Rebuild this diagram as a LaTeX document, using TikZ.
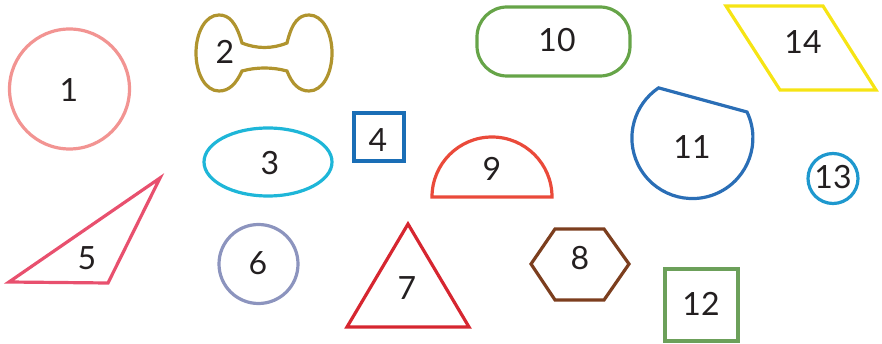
\documentclass[tikz,border=0pt]{standalone}
\usepackage{fontspec}
\setmainfont{Lato}
\usepackage{tikz}

\definecolor{shapePink}{RGB}{242,148,146}
\definecolor{shapeOlive}{RGB}{176,148,46}
\definecolor{shapeCyan}{RGB}{30,182,216}
\definecolor{shapeBlue}{RGB}{26,110,182}
\definecolor{shapeRose}{RGB}{232,80,110}
\definecolor{shapeLavender}{RGB}{140,148,190}
\definecolor{shapeRed}{RGB}{214,38,48}
\definecolor{shapeBrown}{RGB}{124,62,30}
\definecolor{shapeOrange}{RGB}{234,74,58}
\definecolor{shapeGreen}{RGB}{102,164,72}
\definecolor{shapeNavy}{RGB}{42,110,182}
\definecolor{shapeSage}{RGB}{108,160,90}
\definecolor{shapeSky}{RGB}{30,152,206}
\definecolor{shapeYellow}{RGB}{246,228,20}
\definecolor{labelGray}{RGB}{35,31,32}

\begin{document}
\begin{tikzpicture}[
    x=1pt, y=-1pt,
    outline/.style={line width=3.2pt},
    num/.style={font=\fontsize{32}{32}\selectfont, text=labelGray, inner sep=0pt}
]
    \useasboundingbox (0,0) rectangle (882,344);

    % shapes
    \draw [outline, shapePink] (69.5,89) circle [radius=60];
    \draw [outline, shapeOlive] (242,43) .. controls (236,22) and (229,15) .. (219,15)
        .. controls (205,15) and (196,33) .. (196,53)
        .. controls (196,73) and (205,91) .. (219,91)
        .. controls (229,91) and (236,84) .. (242,71)
        .. controls (257,67) and (272,67) .. (287,71)
        .. controls (292,84) and (299,91) .. (309,91)
        .. controls (323,91) and (332,73) .. (332,53)
        .. controls (332,33) and (323,15) .. (309,15)
        .. controls (299,15) and (292,22) .. (287,43)
        .. controls (272,49) and (257,49) .. (242,43) -- cycle;
    \draw [outline, shapeCyan] (268,162) ellipse [x radius=64, y radius=34];
    \draw [outline, shapeBlue] (354,113) rectangle (404,161);
    \draw [outline, shapeRose] (9,282) -- (160,178) -- (108,283) -- cycle;
    \draw [outline, shapeLavender] (258.5,264) circle [radius=39.5];
    \draw [outline, shapeRed] (408,224) -- (469,327) -- (347,327) -- cycle;
    \draw [outline, shapeBrown] (531,264) -- (555,229) -- (604,229) -- (629,264) -- (604,300) -- (555,300) -- cycle;
    \draw [outline, shapeOrange] (432,197) arc [start angle=180, end angle=360, radius=60] -- cycle;
    \draw [outline, shapeGreen, rounded corners=30pt] (477,7) rectangle (630,76);
    \draw [outline, shapeNavy] (747,112) arc [start angle=-25.5, end angle=236, radius=60.5] -- cycle;
    \draw [outline, shapeSage] (665,269) rectangle (738,341);
    \draw [outline, shapeSky] (833,178.5) circle [radius=25];
    \draw [outline, shapeYellow] (726,6) -- (823,6) -- (876,90) -- (780,90) -- cycle;

    % labels
    \node [num] (n1) at (69,90) {1};
    \node [num] (n2) at (225,52) {2};
    \node [num] (n3) at (270,163) {3};
    \node [num] (n4) at (378,140) {4};
    \node [num] (n5) at (87,258) {5};
    \node [num] (n6) at (258,263) {6};
    \node [num] (n7) at (407,288) {7};
    \node [num] (n8) at (580,258) {8};
    \node [num] (n9) at (492,169) {9};
    \node [num] (n10) at (557,40) {10};
    \node [num] (n11) at (692,147) {11};
    \node [num] (n12) at (701,304) {12};
    \node [num] (n13) at (833,177) {13};
    \node [num] (n14) at (803,42) {14};
\end{tikzpicture}
\end{document}
